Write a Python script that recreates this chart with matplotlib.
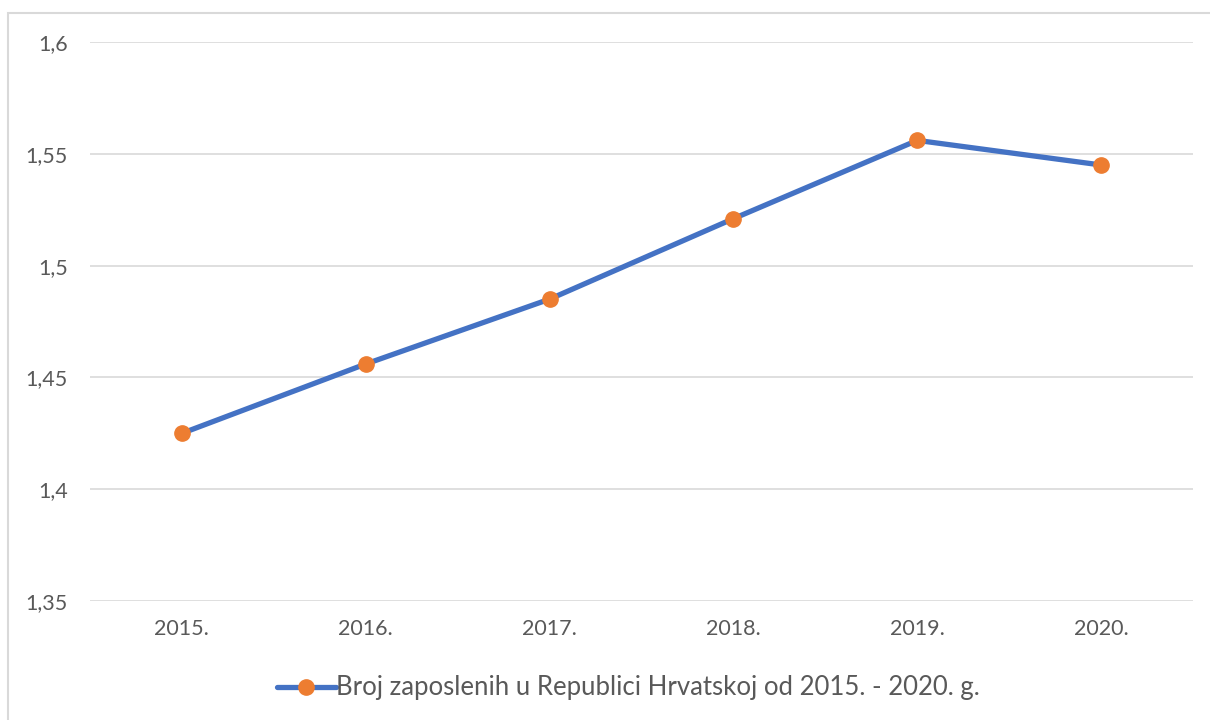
import matplotlib.pyplot as plt
from matplotlib.patches import Rectangle

# data
years = ['2015.', '2016.', '2017.', '2018.', '2019.', '2020.']
employed = [1.425, 1.456, 1.485, 1.521, 1.556, 1.545]
series_name = 'Broj zaposlenih u Republici Hrvatskoj od 2015. - 2020. g.'

plt.rcParams['font.family'] = ['Lato', 'DejaVu Sans']

fig = plt.figure(figsize=(12.1, 7.2), dpi=100)
ax = fig.add_axes([90 / 1210, 119 / 720, 1103 / 1210, 559 / 720])

# chart area border (cut off at right/bottom in the reference)
fig.patches.append(Rectangle((8 / 1210, -0.1), 1.2, (720 - 13) / 720 + 0.1,
                             transform=fig.transFigure, fill=False,
                             edgecolor='#d9d9d9', linewidth=1.5))

x = list(range(len(years)))
ax.plot(x, employed, color='#4472C4', linewidth=3.8, marker='o',
        markersize=11, markerfacecolor='#ED7D31', markeredgecolor='#ED7D31',
        label=series_name, solid_capstyle='round')

ax.set_xlim(-0.5, len(years) - 0.5)
ax.set_ylim(1.35, 1.6)
ax.set_yticks([1.35, 1.4, 1.45, 1.5, 1.55, 1.6])
ax.set_yticklabels(['1,35', '1,4', '1,45', '1,5', '1,55', '1,6'])
ax.set_xticks(x)
ax.set_xticklabels(years)
ax.grid(axis='y', color='#d9d9d9', linewidth=1.2)
ax.set_axisbelow(True)
for s in ax.spines.values():
    s.set_visible(False)
ax.tick_params(length=0, labelsize=15.5, colors='#595959', pad=13)
ax.tick_params(axis='y', pad=16)

leg = fig.legend(loc='center', bbox_to_anchor=(628 / 1210, 1 - 688 / 720),
                 frameon=False, fontsize=18.5, handlelength=2.3, handletextpad=0.0)
for t in leg.get_texts():
    t.set_color('#595959')

fig.savefig('out.png', dpi=100)
